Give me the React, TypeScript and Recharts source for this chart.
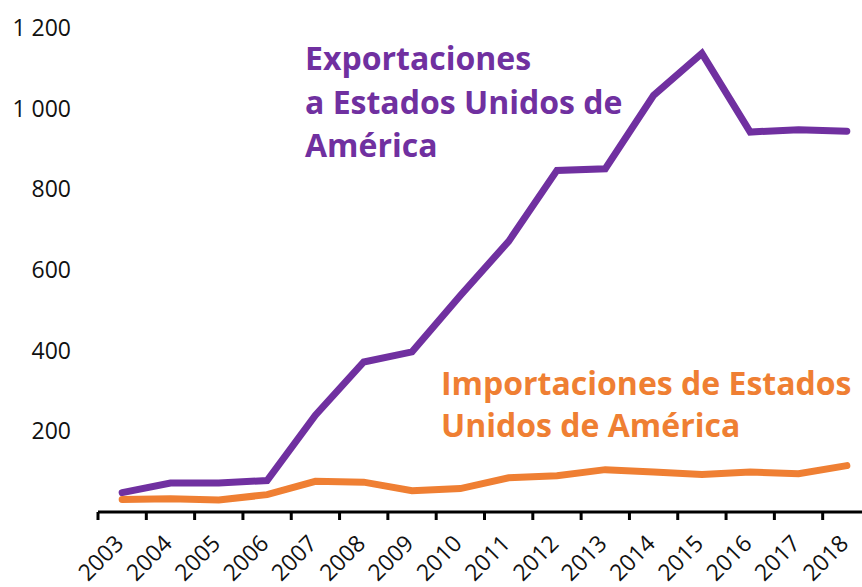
import { LineChart, Line, XAxis, YAxis } from 'recharts'

const years = [2003, 2004, 2005, 2006, 2007, 2008, 2009, 2010, 2011, 2012, 2013, 2014, 2015, 2016, 2017, 2018]
const exportaciones = [48, 72, 72, 78, 240, 372, 397, 537, 671, 847, 851, 1033, 1137, 942, 948, 944]
const importaciones = [31, 33, 30, 43, 76, 74, 53, 58, 85, 90, 105, 99, 93, 99, 95, 115]
const yTicks = [200, 400, 600, 800, 1000, 1200]

const PURPLE = '#7030a0'
const ORANGE = '#ef7f33'
const FONT = '"Open Sans", "Noto Sans", sans-serif'

const data = years.map((year, i) => ({ year, exp: exportaciones[i], imp: importaciones[i] }))
// tick marks sit between years, labels sit on the years
const xTicks = [years[0] - 0.5, ...years.flatMap(y => [y, y + 0.5])]

const fmt = (v: number) => (v >= 1000 ? `${Math.floor(v / 1000)} ${String(v % 1000).padStart(3, '0')}` : String(v))

function YearTick(props: any) {
  const { x, y, payload } = props
  const v = payload.value
  if (!Number.isInteger(v)) {
    return <line x1={x} y1={y} x2={x} y2={y + 8} stroke="#000" strokeWidth={3} />
  }
  return (
    <g transform={`translate(${x + 3},${y + 33}) rotate(-45)`}>
      <text x={0} y={0} textAnchor="end" fill="#111" fontSize={23} fontFamily={FONT}>{v}</text>
    </g>
  )
}

export default function App() {
  return (
    <div style={{ position: 'absolute', left: 0, top: 0, width: 862, height: 587, overflow: 'hidden', background: '#fff' }}>
      <LineChart width={880} height={587} data={data} margin={{ top: 28, right: 9, bottom: 0, left: 0 }}>
        <XAxis
          dataKey="year"
          type="number"
          domain={[2002.5, 2018.5]}
          ticks={xTicks}
          interval={0}
          height={75}
          tickLine={false}
          tickSize={0}
          tickMargin={0}
          axisLine={{ stroke: '#000', strokeWidth: 3 }}
          tick={<YearTick />}
        />
        <YAxis
          domain={[0, 1200]}
          ticks={yTicks}
          width={98}
          axisLine={false}
          tickLine={false}
          tickSize={0}
          tickMargin={27}
          tickFormatter={fmt}
          tick={{ fill: '#111', fontSize: 23, fontFamily: FONT }}
        />
        <Line type="linear" dataKey="exp" stroke={PURPLE} strokeWidth={7} dot={false} strokeLinecap="round" isAnimationActive={false} />
        <Line type="linear" dataKey="imp" stroke={ORANGE} strokeWidth={7} dot={false} strokeLinecap="round" isAnimationActive={false} />
      </LineChart>
      <div style={{ position: 'absolute', left: 305, top: 36, color: PURPLE, fontFamily: FONT, fontWeight: 700, fontSize: 32, lineHeight: '43.5px', whiteSpace: 'nowrap' }}>
        Exportaciones<br />a Estados Unidos de<br />América
      </div>
      <div style={{ position: 'absolute', left: 441, top: 362, color: ORANGE, fontFamily: FONT, fontWeight: 700, fontSize: 32, lineHeight: '42px', whiteSpace: 'nowrap' }}>
        Importaciones de Estados<br />Unidos de América
      </div>
    </div>
  )
}
